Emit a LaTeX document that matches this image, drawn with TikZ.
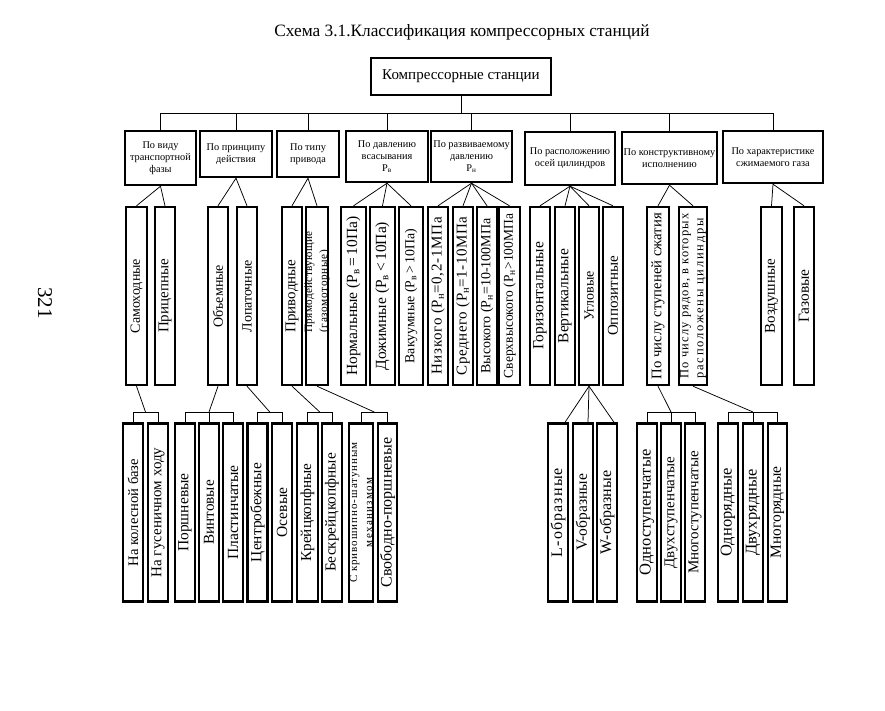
\documentclass[tikz,border=0pt]{standalone}
\usepackage{fontspec}
\setmainfont{Liberation Serif}
\usepackage{graphicx}
\usetikzlibrary{calc}
\newcommand\fs[1]{\fontsize{#1}{#1}\selectfont}
\newcommand\lsp[1]{\addfontfeatures{LetterSpace=#1}}
\begin{document}
\begin{tikzpicture}[x=1pt,y=-1pt,
  box/.style={draw, line width=2.4pt, inner sep=0pt},
  cat/.style={box, align=center, font=\fontsize{10.3}{12}\selectfont},
  vtext/.style={rotate=90, align=center, inner sep=0pt, font=\fs{15}},
  conn/.style={line width=0.75pt}]
\useasboundingbox (0,0) rectangle (885,710);
\newcommand\CB[6]{\node[cat, minimum width=#4, minimum height=#5] (#1) at (#2,#3) {#6};}
\newcommand\VB[6][]{\node[box, minimum width=#5, minimum height=178] (#2) at (#3,#4) {};
  \node[vtext,#1] (#2t) at (#2) {#6};}

% title and page number
\node[font=\fs{17.3}] (title) at (462,32) {Схема 3.1.Классификация компрессорных станций};
\node[rotate=-90, font=\fs{21}] (pg) at (45,303) {321};

% root
\node[box, line width=2.7pt, minimum width=180, minimum height=37, font=\fs{15}] (root) at (461,76.5) {Компрессорные станции};

% categories
\CB{c1}{160.5}{158}{71}{54}{По виду\\транспортной\\фазы}
\CB{c2}{236}{154}{72}{46}{По принципу\\действия}
\CB{c3}{308}{154}{62}{46}{По типу\\привода}
\CB{c4}{387}{156.5}{82}{51}{По давлению\\всасывания\\Р\textsubscript{в}}
\CB{c5}{471.5}{156.5}{81}{51}{По развиваемому\\давлению\\Р\textsubscript{н}}
\CB{c6}{570}{158.5}{90}{53}{По расположению\\осей цилиндров}
\CB{c7}{669.5}{158}{95}{52}{По конструктивному\\исполнению}
\CB{c8}{773}{157}{100}{52}{По характеристике\\сжимаемого газа}

% middle level
\VB{m1}{136.5}{296}{21}{\fs{14}Самоходные}
\VB{m2}{165}{296}{20}{Прицепные}
\VB{m3}{218}{296}{20}{\fs{14}Объемные}
\VB{m4}{247}{296}{20}{\fs{14}Лопаточные}
\VB{m5}{292}{296}{20}{Приводные}
\node[box, minimum width=22, minimum height=178] (m6) at (317,296) {};
\node[vtext, align=left] (m6t) at ([yshift=14pt]m6) {\fs{11.2}\lsp{3}Прямодействующие\\\fs{11.2}\lsp{6}(газомоторные)};
\VB{m7}{353.5}{296}{25}{\fs{15.5}Нормальные (Р\textsubscript{в}\,=\,10Па)}
\VB{m8}{382.5}{296}{25}{\fs{15.5}Дожимные (Р\textsubscript{в}\,<\,10Па)}
\VB{m9}{411}{296}{24}{\fs{13.8}Вакуумные (Р\textsubscript{в}\,>\,10Па)}
\VB{m10}{438}{296}{20}{\fs{15}\lsp{5}Низкого (Р\textsubscript{н}=0,2-1МПа}
\VB{m11}{463}{296}{20}{\fs{15}\lsp{4}Среднего (Р\textsubscript{н}=1-10МПа}
\VB{m12}{487}{296}{20}{\fs{14}Высокого (Р\textsubscript{н}=10-100МПа}
\VB{m13}{509.5}{296}{21}{\fs{13.5}Сверхвысокого (Р\textsubscript{н}>100МПа}
\VB{m14}{540}{296}{20}{\fs{15.5}Горизонтальные}
\VB{m15}{565}{296}{20}{\fs{15.5}Вертикальные}
\VB{m16}{589}{296}{20}{\fs{14}Угловые}
\VB{m17}{613}{296}{20}{Оппозитные}
\VB{m18}{658}{296}{22}{\fs{14.7}По числу ступеней сжатия}
\VB[align=left]{m19}{693}{296}{28}{\fontsize{12.5}{12}\selectfont\lsp{9}По числу рядов, в которых\\\fontsize{12.5}{12}\selectfont\lsp{14}расположены цилиндры}
\VB{m20}{771.5}{296}{21}{Воздушные}
\VB{m21}{804}{296}{20}{\fs{15.4}Газовые}

% bottom level
\VB{b1}{133}{512.5}{20}{\fs{14.6}На колесной базе}
\VB{b2}{158}{512.5}{20}{На гусеничном ходу}
\VB{b3}{185}{512.5}{20}{\fs{15.5}Поршневые}
\VB{b4}{209}{512.5}{20}{\fs{15.2}Винтовые}
\VB{b5}{233}{512.5}{20}{\fs{15.5}Пластинчатые}
\VB{b6}{257.5}{512.5}{20}{\fs{15.4}Центробежные}
\VB{b7}{282}{512.5}{20}{\fs{15.5}Осевые}
\VB{b8}{307.5}{512.5}{21}{\fs{15.2}Крейцкопфные}
\VB{b9}{332}{512.5}{20}{\fs{15.3}Бескрейцкопфные}
\VB{b10}{361}{512.5}{24}{\fs{11}\lsp{9}С кривошипно-шатунным\\\fs{11}\lsp{12}механизмом}
\VB{b11}{387.5}{512.5}{19}{\fs{16}Свободно-поршневые}
\VB{b12}{558}{512.5}{20}{\fs{16}\lsp{7}L-образные}
\VB{b13}{583}{512.5}{20}{\fs{15.5}V-образные}
\VB{b14}{607}{512.5}{20}{\fs{16}W-образные}
\VB{b15}{647}{512.5}{20}{\fs{16.5}Одноступенчатые}
\VB{b16}{671}{512.5}{20}{Двухступенчатые}
\VB{b17}{695}{512.5}{20}{Многоступенчатые}
\VB{b18}{728}{512.5}{20}{\fs{16.5}Однорядные}
\VB{b19}{753}{512.5}{20}{\fs{16.5}Двухрядные}
\VB{b20}{777.5}{512.5}{19}{\fs{15.5}Многорядные}

% bus from root to categories
\coordinate (bus) at (0,113);
\draw[conn] (root.south) -- (root.south |- bus);
\draw[conn] (c1.north) -- (c1.north |- bus) -- (c8.north |- bus) -- (c8.north);
\foreach \c in {c2,c3,c4,c5,c6,c7} \draw[conn] (\c.north) -- (\c.north |- bus);

% categories to middle level
\foreach \p/\k in {c1/m1,c1/m2,c2/m3,c2/m4,c3/m5,c3/m6,c4/m7,c4/m8,c4/m9,
  c5/m10,c5/m11,c5/m12,c5/m13,c6/m14,c6/m15,c6/m16,c6/m17,c7/m18,c7/m19,c8/m20,c8/m21}
  \draw[conn] (\p.south) -- (\k.north);

% brackets to bottom level
\coordinate (br) at (0,412);
\foreach \s/\a/\b in {m1/b1/b2, m4/b6/b7, m5/b8/b9, m6/b10/b11} {
  \draw[conn] (\a.north) -- (\a.north |- br) -- (\b.north |- br) -- (\b.north);
  \draw[conn] (\s.south) -- ($(\a.north |- br)!.5!(\b.north |- br)$);
}
\foreach \s/\a/\m/\b in {m3/b3/b4/b5, m18/b15/b16/b17, m19/b18/b19/b20} {
  \draw[conn] (\a.north) -- (\a.north |- br) -- (\b.north |- br) -- (\b.north);
  \draw[conn] (\m.north) -- (\m.north |- br);
  \draw[conn] (\s.south) -- (\m.north |- br);
}
\draw[conn] (m16.south) -- ([xshift=7pt]b12.north);
\draw[conn] (m16.south) -- ([xshift=5pt]b13.north);
\draw[conn] (m16.south) -- ([xshift=7pt]b14.north);
\end{tikzpicture}
\end{document}
